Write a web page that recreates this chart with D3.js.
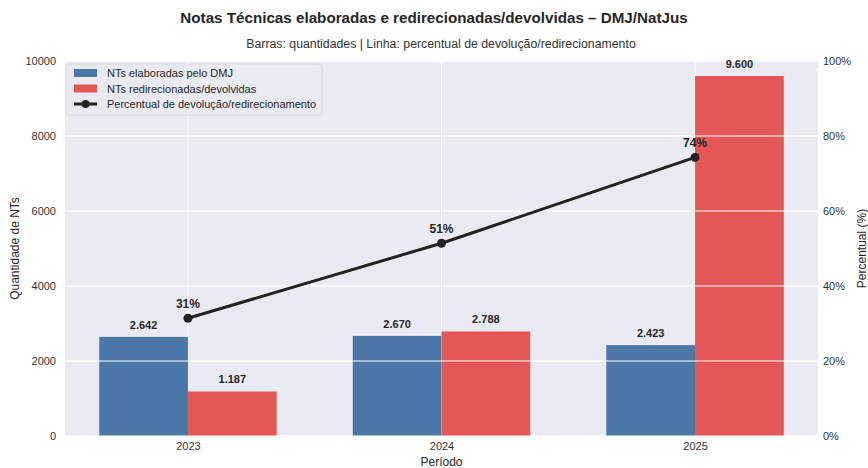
<!DOCTYPE html>
<html>
<head>
<meta charset="utf-8">
<script src="https://d3js.org/d3.v7.min.js"></script>
<style>
  body { margin: 0; background: #fff; }
  text { font-family: "Liberation Sans", Arial, sans-serif; }
</style>
</head>
<body>
<svg id="vis"></svg>
<script>
  // data
  var periods = ["2023", "2024", "2025"];
  var elaboradas = [2642, 2670, 2423];
  var redirecionadas = [1187, 2788, 9600];
  var percentual = [31.4, 51.4, 74.3];
  var leftTicks = [0, 2000, 4000, 6000, 8000, 10000];
  var rightTicks = [0, 20, 40, 60, 80, 100];

  var W = 868, H = 468;
  var plot = {left: 65, right: 818, top: 61, bottom: 436};
  var barW = 0.35;

  var svg = d3.select("#vis").attr("width", W).attr("height", H);

  var x = d3.scaleLinear().domain([-0.485, 2.485]).range([plot.left, plot.right]);
  var y = d3.scaleLinear().domain([0, 10000]).range([plot.bottom, plot.top]);
  var yr = d3.scaleLinear().domain([0, 100]).range([plot.bottom, plot.top]);

  var br = d3.formatLocale({decimal: ",", thousands: ".", grouping: [3], currency: ["R$", ""]});
  var fmtN = br.format(",d");

  // background
  svg.append("rect")
      .attr("x", plot.left).attr("y", plot.top)
      .attr("width", plot.right - plot.left).attr("height", plot.bottom - plot.top)
      .attr("fill", "#eaeaf2");

  // vertical grid (under bars)
  svg.selectAll(".vgrid")
      .data(periods)
      .enter().append("line")
      .attr("x1", function(d, i) { return x(i); })
      .attr("x2", function(d, i) { return x(i); })
      .attr("y1", plot.top).attr("y2", plot.bottom)
      .attr("stroke", "#fff").attr("stroke-width", 1);

  svg.selectAll(".hgrid0")
      .data(leftTicks)
      .enter().append("line")
      .attr("x1", plot.left).attr("x2", plot.right)
      .attr("y1", function(d) { return y(d); })
      .attr("y2", function(d) { return y(d); })
      .attr("stroke", "#fff").attr("stroke-width", 1);

  // bars
  svg.selectAll(".barA")
      .data(elaboradas)
      .enter().append("rect")
      .attr("x", function(d, i) { return x(i - barW); })
      .attr("y", function(d) { return y(d); })
      .attr("width", x(barW) - x(0))
      .attr("height", function(d) { return y(0) - y(d); })
      .attr("fill", "#4c78a8");

  svg.selectAll(".barB")
      .data(redirecionadas)
      .enter().append("rect")
      .attr("x", function(d, i) { return x(i); })
      .attr("y", function(d) { return y(d); })
      .attr("width", x(barW) - x(0))
      .attr("height", function(d) { return y(0) - y(d); })
      .attr("fill", "#e45756");

  // horizontal grid of the twin axis, drawn over bars
  svg.selectAll(".hgrid")
      .data(rightTicks)
      .enter().append("line")
      .attr("x1", plot.left).attr("x2", plot.right)
      .attr("y1", function(d) { return yr(d); })
      .attr("y2", function(d) { return yr(d); })
      .attr("stroke", "#fff").attr("stroke-width", 1);

  // bar labels
  svg.selectAll(".labA")
      .data(elaboradas)
      .enter().append("text")
      .attr("x", function(d, i) { return x(i - barW / 2); })
      .attr("y", function(d) { return y(d) - 8; })
      .attr("text-anchor", "middle")
      .attr("font-size", 11).attr("font-weight", "bold").attr("fill", "#262626")
      .text(function(d) { return fmtN(d); });

  svg.selectAll(".labB")
      .data(redirecionadas)
      .enter().append("text")
      .attr("x", function(d, i) { return x(i + barW / 2); })
      .attr("y", function(d) { return y(d) - 8; })
      .attr("text-anchor", "middle")
      .attr("font-size", 11).attr("font-weight", "bold").attr("fill", "#262626")
      .text(function(d) { return fmtN(d); });

  // percent line
  var line = d3.line()
      .x(function(d, i) { return x(i); })
      .y(function(d) { return yr(d); });

  svg.append("path")
      .datum(percentual)
      .attr("d", line)
      .attr("fill", "none")
      .attr("stroke", "#222")
      .attr("stroke-width", 3);

  svg.selectAll(".dot")
      .data(percentual)
      .enter().append("circle")
      .attr("cx", function(d, i) { return x(i); })
      .attr("cy", function(d) { return yr(d); })
      .attr("r", 4.5)
      .attr("fill", "#222");

  svg.selectAll(".pctLab")
      .data(percentual)
      .enter().append("text")
      .attr("x", function(d, i) { return x(i); })
      .attr("y", function(d) { return yr(d) - 10; })
      .attr("text-anchor", "middle")
      .attr("font-size", 12).attr("font-weight", "bold").attr("fill", "#262626")
      .text(function(d) { return Math.round(d) + "%"; });

  // axes
  var axL = svg.append("g")
      .attr("transform", "translate(" + plot.left + ",0)")
      .call(d3.axisLeft(y).tickValues(leftTicks).tickSize(0).tickPadding(9).tickFormat(d3.format("d")));
  var axR = svg.append("g")
      .attr("transform", "translate(" + plot.right + ",0)")
      .call(d3.axisRight(yr).tickValues(rightTicks).tickSize(0).tickPadding(5).tickFormat(function(d) { return d + "%"; }));
  var axB = svg.append("g")
      .attr("transform", "translate(0," + plot.bottom + ")")
      .call(d3.axisBottom(x).tickValues([0, 1, 2]).tickSize(0).tickPadding(6).tickFormat(function(d) { return periods[d]; }));

  [axL, axR, axB].forEach(function(g) {
    g.select(".domain").remove();
    g.selectAll("text")
        .attr("font-size", 11)
        .attr("fill", "#333")
        .attr("font-family", "'Liberation Sans', Arial, sans-serif");
  });

  // titles
  svg.append("text")
      .attr("x", 434).attr("y", 23)
      .attr("text-anchor", "middle")
      .attr("font-size", 15.2).attr("font-weight", "bold").attr("fill", "#262626")
      .text("Notas Técnicas elaboradas e redirecionadas/devolvidas – DMJ/NatJus");

  svg.append("text")
      .attr("x", 441).attr("y", 48)
      .attr("text-anchor", "middle")
      .attr("font-size", 12.3).attr("fill", "#333")
      .text("Barras: quantidades | Linha: percentual de devolução/redirecionamento");

  svg.append("text")
      .attr("x", (plot.left + plot.right) / 2).attr("y", 466)
      .attr("text-anchor", "middle")
      .attr("font-size", 12).attr("fill", "#262626")
      .text("Período");

  svg.append("text")
      .attr("transform", "translate(19," + (plot.top + plot.bottom) / 2 + ") rotate(-90)")
      .attr("text-anchor", "middle")
      .attr("font-size", 12).attr("fill", "#262626")
      .text("Quantidade de NTs");

  svg.append("text")
      .attr("transform", "translate(866," + (plot.top + plot.bottom) / 2 + ") rotate(-90)")
      .attr("text-anchor", "middle")
      .attr("font-size", 12).attr("fill", "#262626")
      .text("Percentual (%)");

  // legend
  var leg = svg.append("g").attr("transform", "translate(69,64)");
  leg.append("rect")
      .attr("x", -3).attr("y", 0).attr("width", 256).attr("height", 51)
      .attr("rx", 3)
      .attr("fill", "#eaeaf2").attr("fill-opacity", 0.8)
      .attr("stroke", "#d8d8e0");
  var legItems = ["NTs elaboradas pelo DMJ", "NTs redirecionadas/devolvidas", "Percentual de devolução/redirecionamento"];
  var legColors = ["#4c78a8", "#e45756", "#222"];
  legItems.forEach(function(t, i) {
    var cy = 9 + i * 15.5;
    if (i < 2) {
      leg.append("rect").attr("x", 5).attr("y", cy - 4).attr("width", 23).attr("height", 8).attr("fill", legColors[i]);
    } else {
      leg.append("line").attr("x1", 5).attr("x2", 28).attr("y1", cy).attr("y2", cy)
          .attr("stroke", legColors[i]).attr("stroke-width", 3);
      leg.append("circle").attr("cx", 16.5).attr("cy", cy).attr("r", 4).attr("fill", legColors[i]);
    }
    leg.append("text").attr("x", 38).attr("y", cy + 4)
        .attr("font-size", 11).attr("fill", "#262626").text(t);
  });
</script>
</body>
</html>
